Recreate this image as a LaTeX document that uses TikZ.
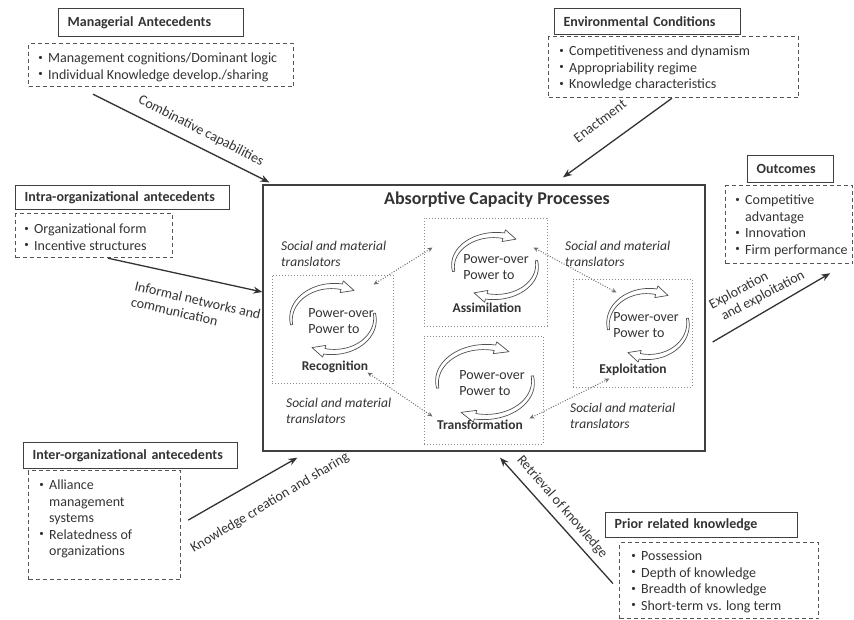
\documentclass[tikz,border=0pt]{standalone}
\usepackage{fontspec}
\setmainfont{Carlito}
\usetikzlibrary{arrows.meta,calc}
\definecolor{ink}{HTML}{333333}
\definecolor{frame}{HTML}{404040}
\definecolor{dashgray}{HTML}{555555}
\definecolor{dotgray}{HTML}{8A8A8A}
\definecolor{curl}{HTML}{505050}

% bullet lists: small bullet column + text column
\newcommand\itemlist[1]{\begin{tabular}[t]{@{}l@{\hspace{4pt}}l@{}}#1\end{tabular}}
\newcommand\bul{\makebox[7pt][c]{\raisebox{0.16em}{\fontsize{9pt}{9pt}\selectfont\textbullet}}}
\newcommand\twolines[2]{\begin{tabular}[t]{@{}l@{}}#1\\#2\end{tabular}}

% hollow curved arrow pair around a centre: #1,#2 centre, #3 x radius, #4 y radius
\newcommand\cyclepair[4]{%
  \begin{scope}[shift={(#1,#2)}, xscale=#3/#4, yscale=-1]
    \foreach \A/\B in {190/78, 10/-102}{
      \pgfmathsetmacro\R{#4}
      \pgfmathsetmacro\Tip{\B-18}
      \filldraw[curlstyle]
        plot[domain=0:1, samples=24] ({\A+(\B-\A)*\x}:{\R+2.8*(0.3+0.7*\x)})
        -- ({\B}:{\R+6})
        -- ({\Tip}:{\R})
        -- ({\B}:{\R-6})
        -- plot[domain=1:0, samples=24] ({\A+(\B-\A)*\x}:{\R-2.8*(0.3+0.7*\x)})
        -- cycle;
    }
  \end{scope}}

\begin{document}
\begin{tikzpicture}[x=1pt, y=-1pt, text=ink,
  font=\fontsize{14pt}{16.5pt}\selectfont,
  titlebox/.style={draw=frame, line width=1.3pt, anchor=north west, align=left,
    inner xsep=9pt, inner ysep=0pt, font=\fontsize{14pt}{16pt}\selectfont\bfseries},
  listbox/.style={draw=dashgray, line width=1.2pt, dash pattern=on 4pt off 3pt,
    anchor=north west, inner sep=0pt},
  listtext/.style={anchor=base west, inner sep=0pt},
  mainbox/.style={draw=frame, line width=1.3pt, fill=white, inner sep=0pt},
  procbox/.style={draw=dotgray, line width=1pt, dash pattern=on 1.2pt off 1.8pt, inner sep=0pt},
  curlstyle/.style={draw=curl, line width=0.7pt, fill=white, line join=round},
  powertext/.style={align=left, inner sep=0pt, font=\fontsize{14pt}{16pt}\selectfont},
  stage/.style={inner sep=0pt, font=\fontsize{13.5pt}{16pt}\selectfont\bfseries},
  transl/.style={anchor=base west, inner sep=0pt, font=\fontsize{13.5pt}{16pt}\selectfont\itshape},
  flowlabel/.style={inner sep=0pt, font=\fontsize{14pt}{16pt}\selectfont},
  flow/.style={draw=ink, line width=1.3pt, -{Stealth[length=9pt, width=7pt]}},
  link/.style={draw=dotgray!80!black, line width=1pt, dash pattern=on 1pt off 1.6pt,
    {Stealth[length=5pt, width=4.5pt]}-{Stealth[length=5pt, width=4.5pt]}}
]
\useasboundingbox (0,0) rectangle (854,619);

% ---------- antecedents, conditions, outcomes ----------
\node[titlebox, text width=167, minimum height=28] (mgrT) at (58,8) {Managerial Antecedents};
\node[listbox, minimum width=265, minimum height=43] (mgrL) at (28,43) {};
\node[listtext] (mgrX) at (37,62.5) {\itemlist{\bul & Management cognitions/Dominant logic\\
  \bul & Individual Knowledge develop./sharing}};

\node[titlebox, text width=168, minimum height=26] (envT) at (554,8) {Environmental Conditions};
\node[listbox, minimum width=250, minimum height=61] (envL) at (548,36) {};
\node[listtext] (envX) at (558,55.5) {\itemlist{\bul & Competitiveness and dynamism\\
  \bul & Appropriability regime\\ \bul & Knowledge characteristics}};

\node[titlebox, text width=68, minimum height=27] (outT) at (747,155) {Outcomes};
\node[listbox, minimum width=127, minimum height=78] (outL) at (725,185) {};
\node[listtext] (outX) at (734,204.5) {\itemlist{\bul & Competitive\\ & advantage\\
  \bul & Innovation\\ \bul & Firm performance}};

\node[titlebox, text width=196, minimum height=24] (intraT) at (15,185) {Intra-organizational antecedents};
\node[listbox, minimum width=157, minimum height=44] (intraL) at (15,213) {};
\node[listtext] (intraX) at (23,233.5) {\itemlist{\bul & Organizational form\\ \bul & Incentive structures}};

\node[titlebox, text width=196, minimum height=26] (interT) at (23,442) {Inter-organizational antecedents};
\node[listbox, minimum width=152, minimum height=109] (interL) at (28,470) {};
\node[listtext] (interX) at (38,489.5) {\itemlist{\bul & Alliance\\ & management\\ & systems\\
  \bul & Relatedness of\\ & organizations}};

\node[titlebox, text width=174, minimum height=25] (priorT) at (605,512) {Prior related knowledge};
\node[listbox, minimum width=199, minimum height=76] (priorL) at (619,542) {};
\node[listtext] (priorX) at (630,560.5) {\itemlist{\bul & Possession\\ \bul & Depth of knowledge\\
  \bul & Breadth of knowledge\\ \bul & Short-term vs. long term}};

% ---------- labels of the outer flows ----------
\node[flowlabel, rotate=-27] (lcomb) at (201,131) {Combinative capabilities};
\node[flowlabel, rotate=37] (lenact) at (600,121) {Enactment};
\node[flowlabel, rotate=-13, align=left] (linf) at (196,308) {Informal networks and\\communication};
\node[flowlabel, rotate=31] (lknow) at (270,503) {Knowledge creation and sharing};
\node[flowlabel, rotate=-49] (lretr) at (562,507) {Retrieval of knowledge};
\node[flowlabel, rotate=28, align=left] (lexpl) at (757,290) {Exploration\\\hspace{5pt}and exploitation};

% ---------- absorptive capacity processes ----------
\node[mainbox, minimum width=442, minimum height=266] (acap) at (484,318) {};
\node[inner sep=0pt, font=\fontsize{18pt}{20pt}\selectfont\bfseries] (acapT) at (497,200)
  {Absorptive Capacity Processes};

\node[procbox, minimum width=123, minimum height=108] (assim) at (485.5,272) {};
\node[procbox, minimum width=121, minimum height=108] (recog) at (332.5,329) {};
\node[procbox, minimum width=119, minimum height=108] (trans) at (483.5,390) {};
\node[procbox, minimum width=119, minimum height=108] (explo) at (632.5,333) {};

\cyclepair{495}{266}{42}{31}
\cyclepair{333}{319}{42}{33}
\cyclepair{648}{324}{40}{33}
\cyclepair{485}{382}{48}{35}

\node[powertext] (assimP) at (496,267) {Power-over\\Power to};
\node[powertext] (recogP) at (341,321) {Power-over\\Power to};
\node[powertext] (exploP) at (646,325) {Power-over\\Power to};
\node[powertext] (transP) at (492,383) {Power-over\\Power to};

\node[stage] (assimS) at (487,308) {Assimilation};
\node[stage] (recogS) at (335,367) {Recognition};
\node[stage] (exploS) at (633,370) {Exploitation};
\node[stage] (transS) at (480,425) {Transformation};

\node[transl] (trTL) at (281,250.5) {\twolines{Social and material}{translators}};
\node[transl] (trTR) at (565,250.5) {\twolines{Social and material}{translators}};
\node[transl] (trBL) at (286,407.5) {\twolines{Social and material}{translators}};
\node[transl] (trBR) at (570,412.5) {\twolines{Social and material}{translators}};

\draw[link] ($(recog.north east)+(-20,10)$) -- ($(assim.north west)+(9,30)$);
\draw[link] ($(assim.north east)+(-14,30)$) -- ($(explo.north west)+(44,14)$);
\draw[link] ($(recog.south east)+(-26,-11)$) -- ($(trans.south west)+(9,-28)$);
\draw[link] ($(trans.south east)+(-14,-26)$) -- ($(explo.south west)+(37,-9)$);

% ---------- outer flows ----------
\draw[flow] ($(mgrL.south west)+(65,7)$) -- ($(acap.north west)+(7,-2)$);
\draw[flow] ($(envL.south west)+(124,0)$) -- ($(acap.north)+(79,-7)$);
\draw[flow] ($(intraL.south west)+(93,0)$) -- ($(acap.west)+(0,-26)$);
\draw[flow] ($(interL.east)+(7,-5)$) -- ($(acap.south west)+(35,6)$);
\draw[flow] ($(priorL.west)+(-6,3)$) -- ($(acap.south)+(16,6)$);
\draw[flow] ($(acap.east)+(7,24)$) -- ($(outL.south east)+(-23,9)$);
\end{tikzpicture}
\end{document}
